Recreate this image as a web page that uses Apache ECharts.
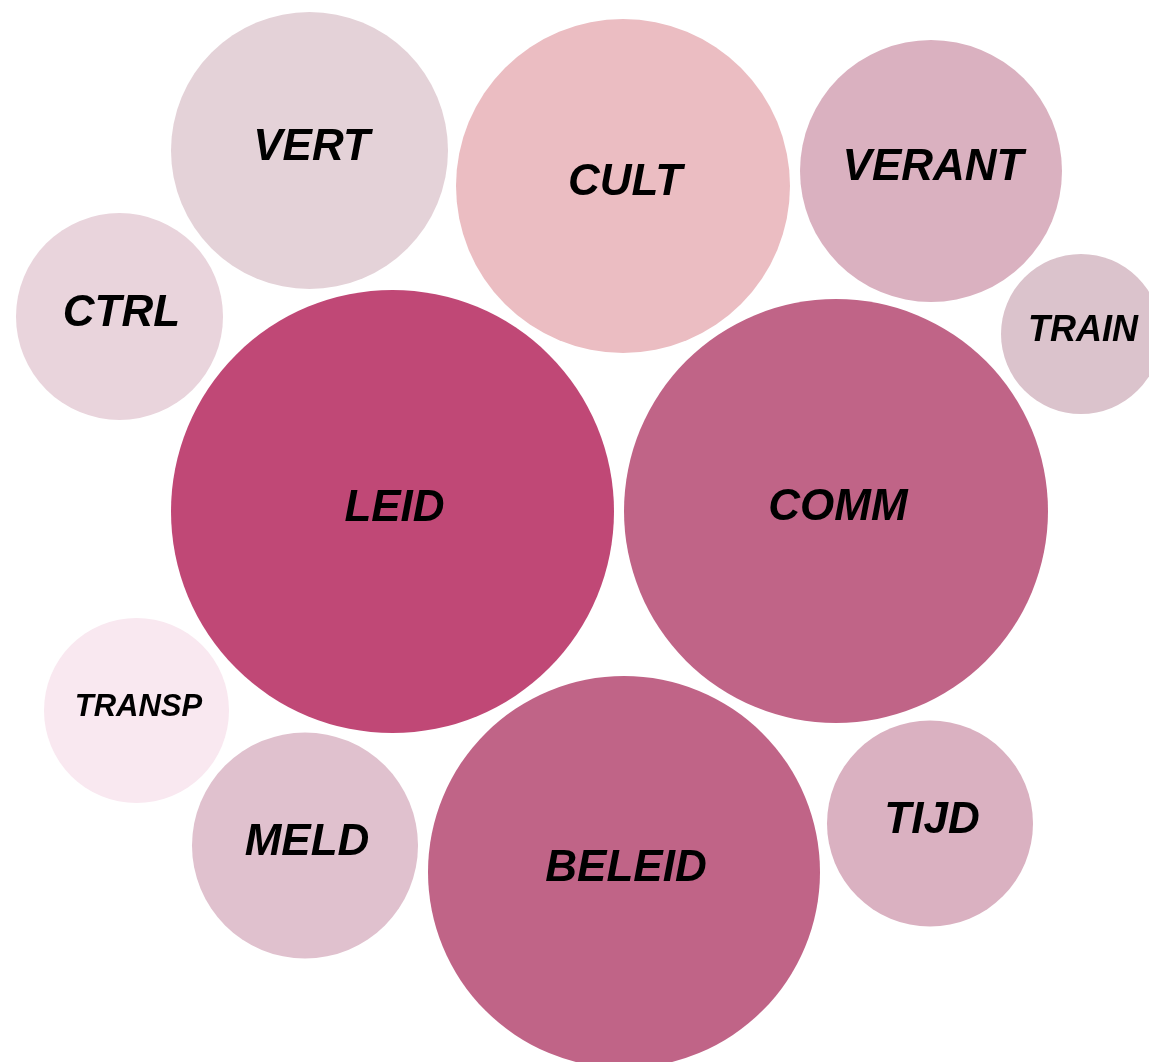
<!DOCTYPE html>
<html>
<head>
<meta charset="utf-8">
<script src="https://cdn.jsdelivr.net/npm/echarts@6/dist/echarts.min.js"></script>
<style>
  html, body { margin: 0; padding: 0; background: #ffffff; }
  #chart { width: 1149px; height: 1062px; }
</style>
</head>
<body>
<div id="chart"></div>
<script>
// bubbles: label, centre (x, y) and radius
const names = ["VERT", "CULT", "VERANT", "TRAIN", "CTRL", "LEID", "COMM", "TRANSP", "MELD", "BELEID", "TIJD"];
const centerX = [309.5, 623, 931, 1081, 119.5, 392.5, 836, 136.5, 305, 624, 930];
const centerY = [150.5, 186, 171, 334, 316.5, 511.5, 511, 710.5, 845.5, 872, 823.5];
const radius = [138.5, 167, 131, 80, 103.5, 221.5, 212, 92.5, 113, 196, 103];

const colors = [
  "#e4d2d8", "#ebbdc2", "#dab1c0", "#dbc3cc", "#e9d4dc", "#c04876",
  "#c06487", "#f9e8f0", "#e0c1ce", "#c06487", "#dab1c1",
];

const FONT = "Liberation Sans, Arial, sans-serif";
const MAX_FONT = 44;

// fit label to the bubble width (max 44px)
const ctx = document.createElement("canvas").getContext("2d");
ctx.font = "italic bold 100px " + FONT;
const fitFont = (text, r) => {
  const w = ctx.measureText(text).width / 100;
  return Math.min(MAX_FONT, Math.floor((2 * r * 0.7) / w));
};

const chart = echarts.init(document.getElementById("chart"));

chart.setOption({
  animation: false,
  backgroundColor: "#ffffff",
  grid: { left: 0, right: 0, top: 0, bottom: 0 },
  xAxis: { type: "value", min: 0, max: 1149, show: false },
  yAxis: { type: "value", min: 0, max: 1062, inverse: true, show: false },
  series: [
    {
      type: "scatter",
      clip: false,
      symbol: "circle",
      data: names.map((n, i) => ({
        name: n,
        value: [centerX[i], centerY[i], radius[i]],
        itemStyle: { color: colors[i], opacity: 1 },
        label: { fontSize: fitFont(n, radius[i]) },
      })),
      symbolSize: (v) => v[2] * 2,
      label: {
        show: true,
        position: "inside",
        formatter: "{b}",
        color: "#000000",
        fontStyle: "italic",
        fontWeight: "bold",
        fontFamily: FONT,
        offset: [2, -3],
      },
      emphasis: { disabled: true },
    },
  ],
});

window.addEventListener("resize", () => chart.resize());
</script>
</body>
</html>
